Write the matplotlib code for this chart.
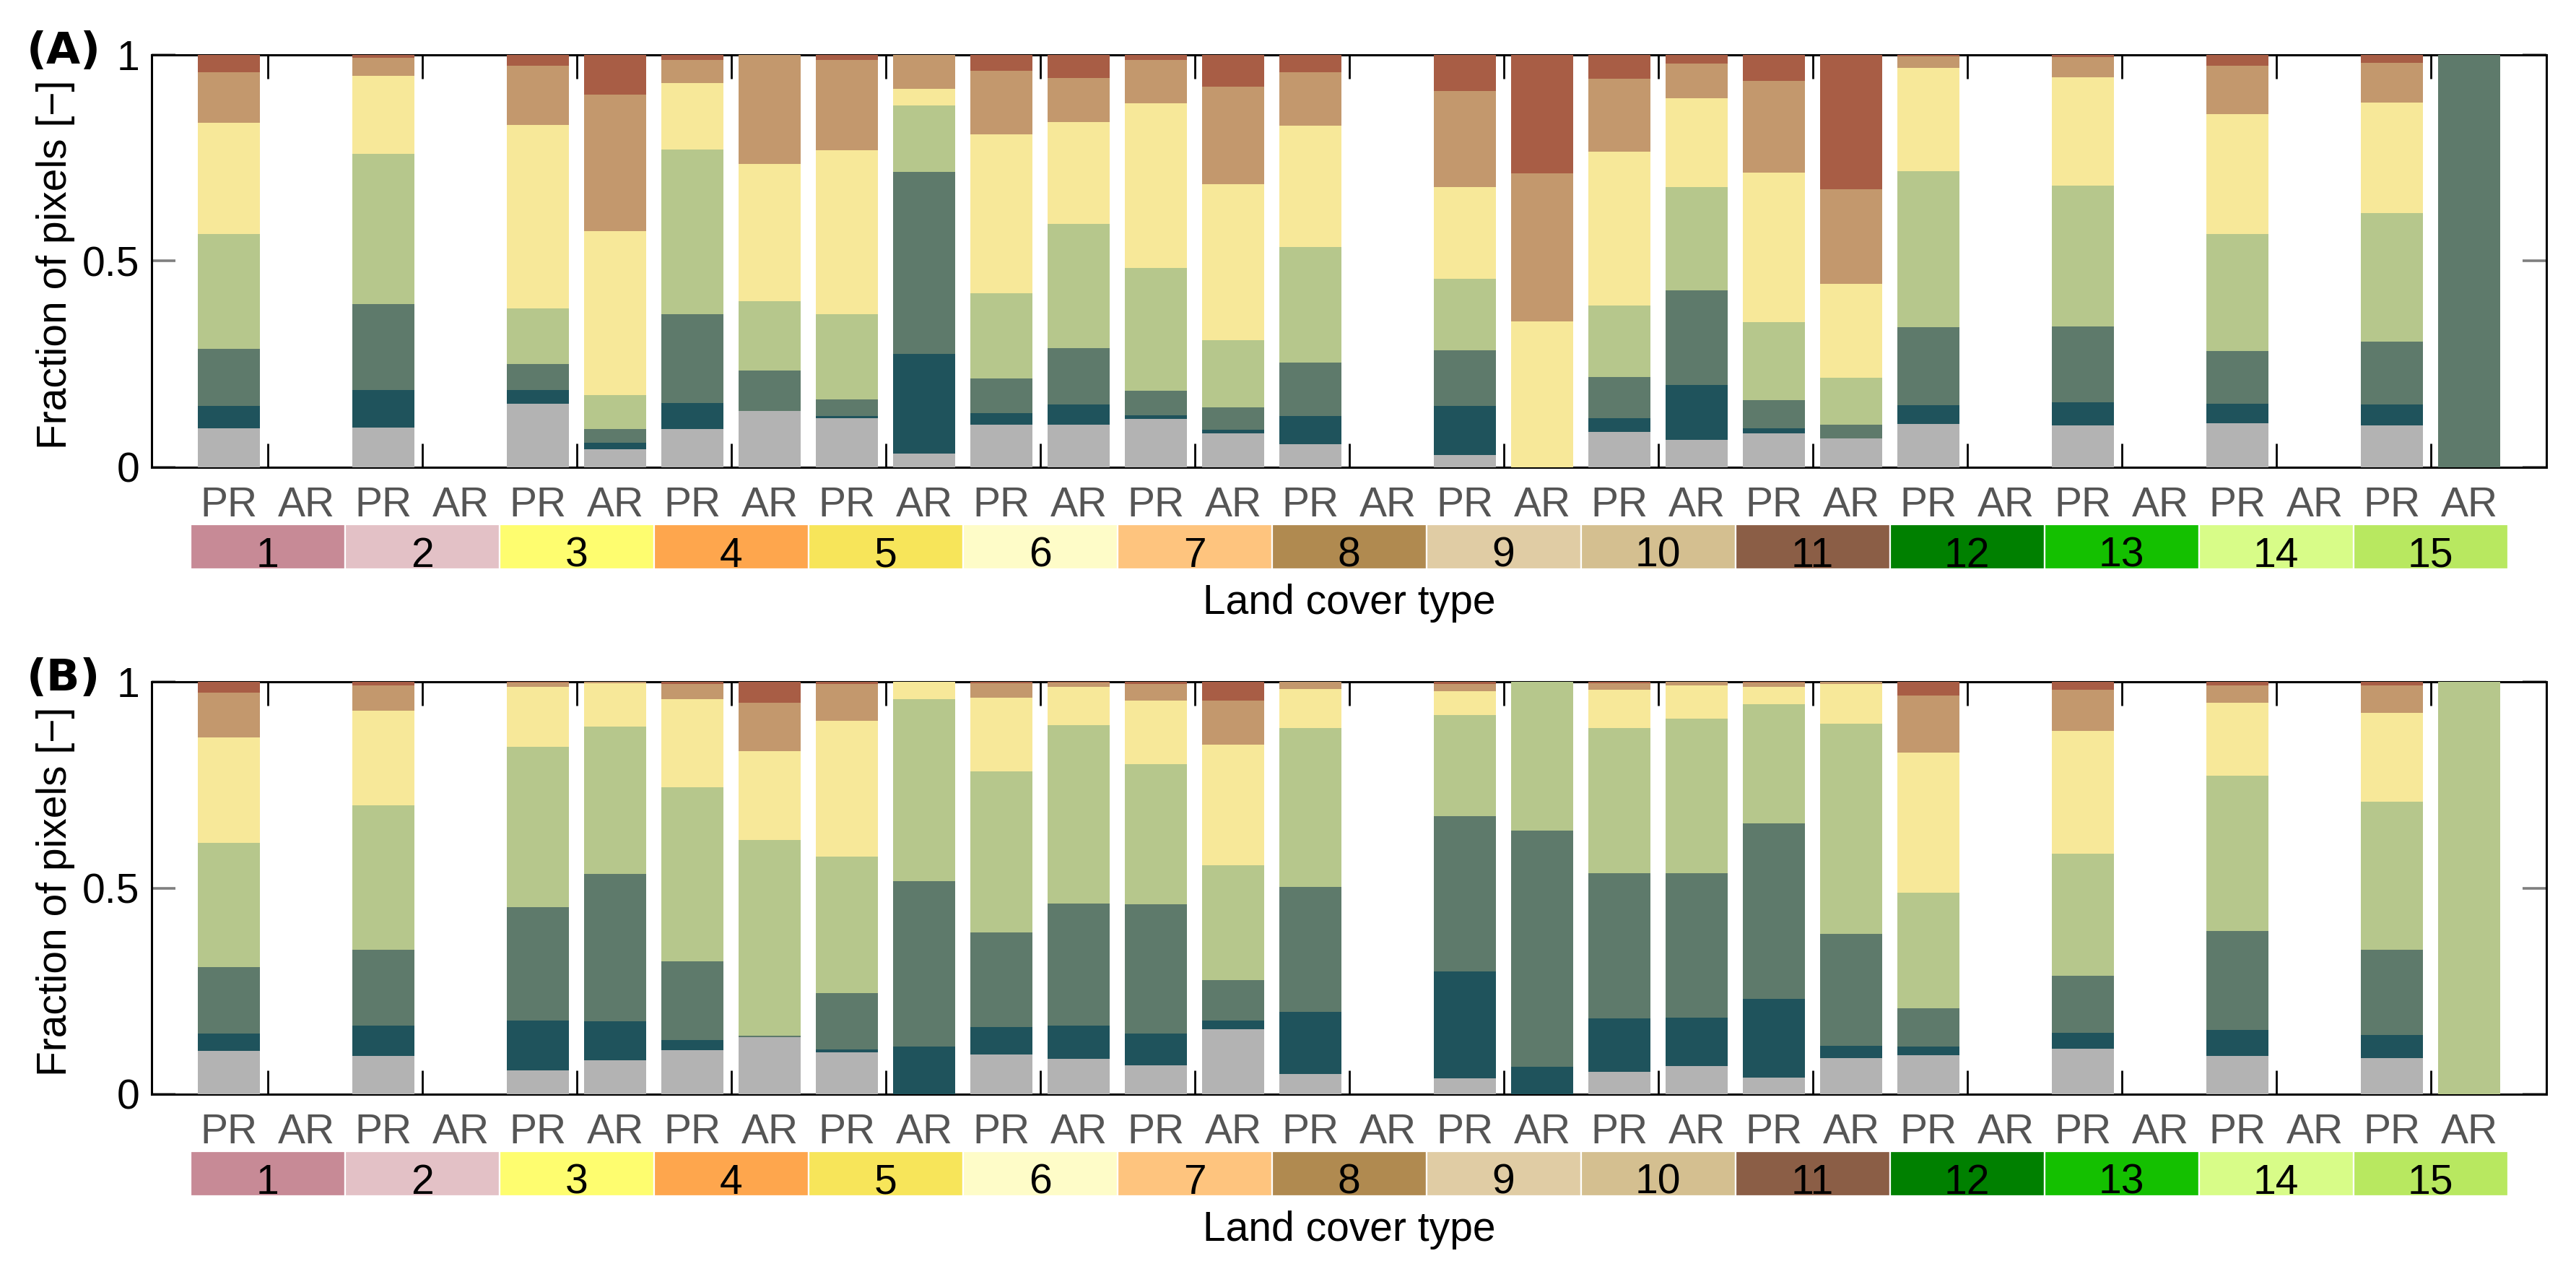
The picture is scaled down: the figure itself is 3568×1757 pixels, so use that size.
import matplotlib
matplotlib.use("Agg")
import matplotlib.pyplot as plt
from matplotlib.patches import Rectangle
import numpy as np

plt.rcParams['font.family'] = ['Liberation Sans', 'DejaVu Sans']

# ---------------- data ----------------
land_cover_types = [str(i) for i in range(1, 16)]
sub_labels = ['PR', 'AR']
land_cover_colors = ['#c78a96', '#e3c1c6', '#fefd6f', '#fea64d', '#f7e55a',
                     '#fefcc8', '#fec47e', '#b08a50', '#e0cca4', '#d4bf90',
                     '#8b5e46', '#008000', '#14c000', '#d8fc88', '#b8e860']

layer_colors = ['#b3b3b3', '#1f535c', '#5e7a6b', '#b6c78c', '#f7e899', '#c3986d', '#a85d45']

# Panel (A): fraction per class, 30 bars ordered 1PR,1AR,2PR,2AR,...
a_gray   = [.095,0, .097,0, .154,.044, .093,.137, .119,.034, .104,.104, .117,.082, .056,0,
            .030,0, .085,.067, .082,.070, .105,0, .101,0, .107,0, .102,0]
a_teal   = [.054,0, .091,0, .033,.016, .063,0, .005,.241, .028,.048, .009,.009, .068,0,
            .119,0, .034,.132, .013,0, .046,0, .057,0, .047,0, .051,0]
a_dkgrn  = [.138,0, .207,0, .063,.032, .216,.098, .040,.442, .083,.137, .059,.055, .130,0,
            .134,0, .100,.230, .067,.033, .188,0, .184,0, .128,0, .152,1.0]
a_ltgrn  = [.278,0, .365,0, .136,.084, .398,.167, .208,.160, .207,.302, .298,.162, .280,0,
            .174,0, .174,.250, .190,.115, .379,0, .341,0, .284,0, .312,0]
a_yellow = [.271,0, .190,0, .444,.397, .162,.334, .396,.040, .385,.247, .400,.378, .295,0,
            .222,.353, .373,.216, .363,.226, .250,0, .263,0, .291,0, .268,0]
a_tan    = [.122,0, .043,0, .144,.330, .055,.264, .219,.083, .154,.106, .104,.237, .129,0,
            .233,.359, .177,.084, .222,.231, .028,0, .049,0, .116,0, .095,0]
a_brick  = [.042,0, .007,0, .026,.097, .013,0, .013,0, .039,.056, .013,.077, .042,0,
            .088,.288, .057,.021, .063,.325, .004,0, .005,0, .027,0, .020,0]

# Panel (B)
b_gray   = [.105,0, .092,0, .058,.083, .107,.139, .101,0, .097,.086, .070,.158, .049,0,
            .038,0, .054,.068, .040,.088, .095,0, .110,0, .092,0, .088,0]
b_teal   = [.042,0, .074,0, .121,.094, .025,0, .008,.115, .065,.080, .077,.020, .150,0,
            .260,.067, .130,.117, .191,.029, .020,0, .039,0, .063,0, .055,0]
b_dkgrn  = [.161,0, .184,0, .275,.357, .190,.002, .136,.402, .231,.296, .313,.098, .303,0,
            .376,.572, .352,.351, .425,.272, .094,0, .139,0, .240,0, .208,0]
b_ltgrn  = [.301,0, .350,0, .389,.357, .422,.476, .331,.441, .389,.433, .340,.280, .386,0,
            .245,.361, .352,.374, .289,.510, .280,0, .296,0, .378,0, .359,1.0]
b_yellow = [.256,0, .230,0, .145,.106, .214,.214, .330,.042, .180,.092, .155,.291, .095,0,
            .058,0, .093,.081, .043,.096, .340,0, .297,0, .177,0, .215,0]
b_tan    = [.108,0, .061,0, .010,.003, .037,.119, .089,0, .034,.012, .040,.108, .017,0,
            .018,0, .016,.009, .010,.005, .137,0, .100,0, .042,0, .066,0]
b_brick  = [.027,0, .009,0, .002,0, .005,.050, .005,0, .004,.001, .005,.045, 0,0,
            .005,0, .003,0, .002,0, .034,0, .019,0, .008,0, .009,0]

panels = [
    ('(A)', [a_gray, a_teal, a_dkgrn, a_ltgrn, a_yellow, a_tan, a_brick]),
    ('(B)', [b_gray, b_teal, b_dkgrn, b_ltgrn, b_yellow, b_tan, b_brick]),
]

# ---------------- figure ----------------
W, H = 3568, 1757
fig = plt.figure(figsize=(W / 200, H / 200), dpi=200)

FS = 20.5
left = 210 / W
width = (3527 - 210) / W
panel_tops = [76, 944]          # pixel y of the value 1 line
ax_h_px = 571
n_bars = len(land_cover_types) * len(sub_labels)
x = np.arange(1, n_bars + 1)
tick_labels = sub_labels * len(land_cover_types)

for (tag, layers), top in zip(panels, panel_tops):
    ax = fig.add_axes([left, 1 - (top + ax_h_px) / H, width, ax_h_px / H])
    bottom = np.zeros(n_bars)
    for vals, col in zip(layers, layer_colors):
        v = np.array(vals, dtype=float)
        ax.bar(x, v, bottom=bottom, width=0.81, color=col, edgecolor='none',
               zorder=3)
        bottom += v
    ax.set_xlim(0, n_bars + 1)
    ax.set_ylim(0, 1)
    ax.set_yticks([0, 0.5, 1])
    ax.set_yticklabels(['0', '0.5', '1'])
    ax.set_xticks(np.arange(1.5, n_bars, 2))
    ax.set_xticklabels([])
    ax.tick_params(axis='y', direction='in', length=12, width=1.3, color='#7f7f7f',
                   left=True, right=True, labelsize=FS, pad=6)
    ax.tick_params(axis='x', direction='in', length=12, width=1.0, color='black',
                   top=True, bottom=True)
    for s in ax.spines.values():
        s.set_linewidth(1.1)
        s.set_color('black')
    # PR / AR labels
    for xi, lab in zip(x, tick_labels):
        ax.text(xi, -0.119, lab, ha='center', va='baseline', fontsize=FS,
                color='#555555', clip_on=False)

    # land cover colour strip
    strip_top = top + 650
    sax = fig.add_axes([left, 1 - (strip_top + 62) / H, width, 62 / H])
    sax.set_xlim(0, n_bars + 1)
    sax.set_ylim(0, 1)
    sax.axis('off')
    for k, (lab, col) in enumerate(zip(land_cover_types, land_cover_colors)):
        x0 = 0.5 + 2 * k
        sax.add_patch(Rectangle((x0, 0), 2, 1, facecolor=col, edgecolor='white',
                                linewidth=0.8))
        sax.text(x0 + 1, 0.05, lab, ha='center', va='baseline', fontsize=FS,
                 color='black')

    fig.text(left + width / 2, 1 - (top + 774) / H, 'Land cover type',
             ha='center', va='baseline', fontsize=FS)
    fig.text(77 / W, 1 - (top + 290) / H, 'Fraction of pixels [\u2212]',
             rotation=90, ha='center', va='center', fontsize=FS)
    fig.text(88 / W, 1 - (top - 4) / H, tag, ha='center', va='center',
             fontsize=22, fontweight='bold', family='DejaVu Sans')

fig.savefig('out.png', dpi=200, facecolor='white')
